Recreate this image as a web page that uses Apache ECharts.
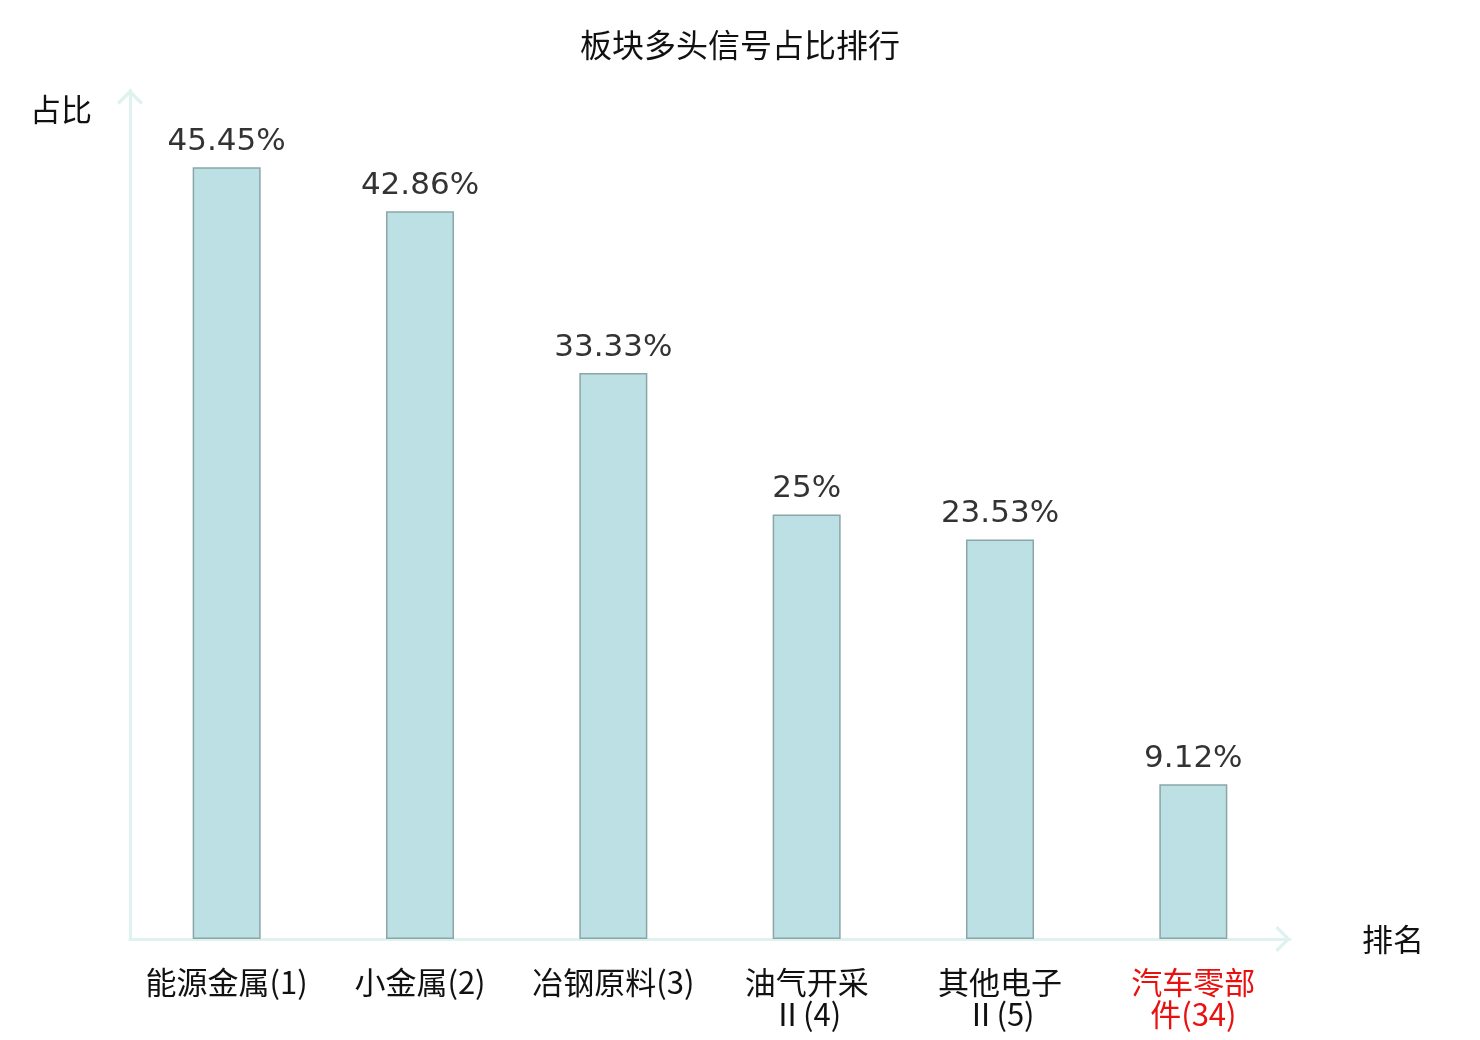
<!DOCTYPE html>
<html><head><meta charset="utf-8">
<script src="https://cdn.jsdelivr.net/npm/echarts@6/dist/echarts.min.js"></script>
<style>html,body{margin:0;padding:0;background:#fff}#c{width:1480px;height:1040px}</style>
</head><body><div id="c"></div>
<script>
const categories = ['能源金属(1)', '小金属(2)', '冶钢原料(3)', '油气开采\nⅡ(4)', '其他电子\nⅡ(5)', '汽车零部\n件(34)'];
const values = [45.45, 42.86, 33.33, 25, 23.53, 9.12];
const valueLabels = ['45.45%', '42.86%', '33.33%', '25%', '23.53%', '9.12%'];
const highlightIndex = 5;

const chart = echarts.init(document.getElementById('c'));
const axisCol = '#dff2ef';
const chevron = 'path://M10 0 L20 10 L18.2 11.8 L10 3.6 L1.8 11.8 L0 10 Z';
chart.setOption({
  animation: false,
  backgroundColor: '#fff',
  title: {
    text: '板块多头信号占比排行', left: 'center', top: 24,
    textStyle: { fontSize: 32, fontWeight: 'normal', color: '#111', fontFamily: 'Noto Sans CJK SC' }
  },
  grid: { left: 130, right: 190, top: 90, bottom: 101 },
  xAxis: {
    type: 'category', data: categories,
    name: '排名', nameLocation: 'end', nameGap: 72,
    nameTextStyle: { fontSize: 31, color: '#111', fontFamily: 'Noto Sans CJK SC', verticalAlign: 'middle' },
    axisLine: { lineStyle: { color: axisCol, width: 3 }, symbol: ['none', chevron], symbolSize: [26, 16], symbolOffset: [0, -7] },
    axisTick: { show: false },
    axisLabel: {
      interval: 0, margin: 27, fontSize: 31, lineHeight: 32,
      fontFamily: 'Noto Sans CJK SC',
      color: (v, i) => i === highlightIndex ? '#e8110f' : '#111'
    }
  },
  yAxis: {
    type: 'value', min: 0, max: 50,
    name: '占比', nameLocation: 'end', nameGap: 0,
    nameTextStyle: { fontSize: 31, color: '#111', fontFamily: 'Noto Sans CJK SC', align: 'right', padding: [4, 38, 0, 0], verticalAlign: 'top' },
    axisLine: { show: true, lineStyle: { color: axisCol, width: 3 }, symbol: ['none', chevron], symbolSize: [26, 16], symbolOffset: [0, -7] },
    axisTick: { show: false },
    axisLabel: { show: false },
    splitLine: { show: false }
  },
  series: [{
    type: 'bar', data: values, barWidth: 68,
    itemStyle: { color: '#bce0e3', borderColor: '#8aa6a8', borderWidth: 1.5 },
    label: {
      show: true, position: 'top', distance: 10,
      fontSize: 31, color: '#333', fontFamily: 'DejaVu Sans',
      formatter: p => valueLabels[p.dataIndex]
    }
  }]
});
</script></body></html>
